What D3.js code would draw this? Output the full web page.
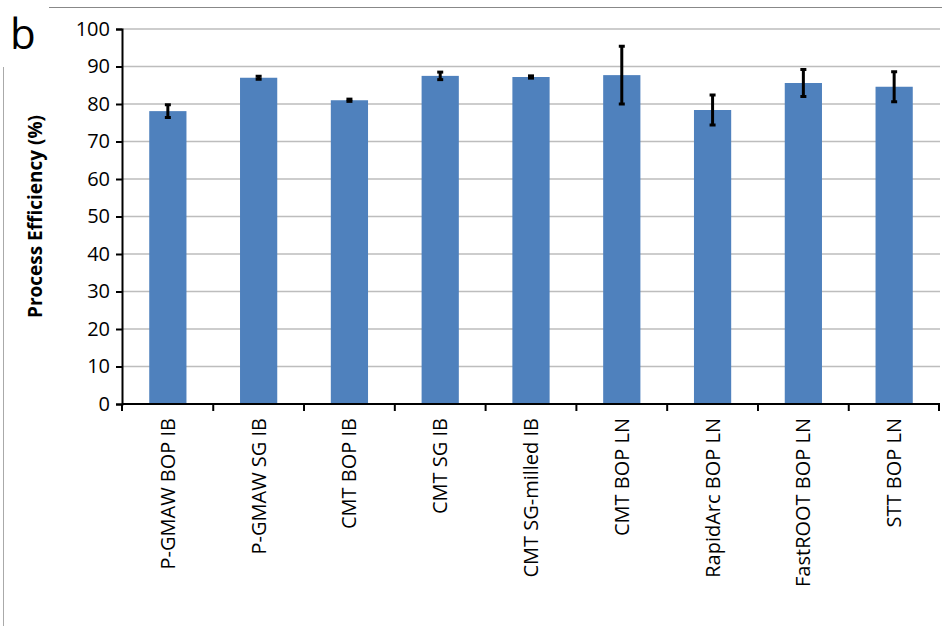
<!DOCTYPE html>
<html><head><meta charset="utf-8">
<script src="https://cdn.jsdelivr.net/npm/d3@7"></script>
<style>body{margin:0;background:#fff}svg{font-family:"Open Sans",Calibri,sans-serif}</style>
</head><body><div id="chart"></div>
<script>
const categories = ['P-GMAW BOP IB', 'P-GMAW SG IB', 'CMT BOP IB', 'CMT SG IB', 'CMT SG-milled IB', 'CMT BOP LN', 'RapidArc BOP LN', 'FastROOT BOP LN', 'STT BOP LN']
const efficiency = [78.1, 87.0, 81.0, 87.5, 87.2, 87.7, 78.4, 85.6, 84.6]
const errors = [1.7, 0.4, 0.3, 1.0, 0.3, 7.7, 4.0, 3.6, 4.0]
const yTicks = [0, 10, 20, 30, 40, 50, 60, 70, 80, 90, 100]

const W = 942, H = 626
const margin = { top: 29, left: 122, right: 2, bottom: 222 }
const width = W - margin.left - margin.right
const height = H - margin.top - margin.bottom

const root = d3.select('#chart').append('svg').attr('width', W).attr('height', H)

// frame fragments from the original figure
root.append('line').attr('x1', 49).attr('x2', W).attr('y1', 7.5).attr('y2', 7.5).attr('stroke', '#888')
root.append('line').attr('x1', 3.5).attr('x2', 3.5).attr('y1', 67).attr('y2', H).attr('stroke', '#aaa')
root.append('text').attr('x', 10).attr('y', 49).attr('font-size', 42).text('b')

const svg = root.append('g').attr('transform', 'translate(' + margin.left + ',' + margin.top + ')')

const x = d3.scaleBand().domain(categories).range([0, width]).paddingInner(0.59).paddingOuter(0.3)
const y = d3.scaleLinear().domain([0, 100]).range([height, 0])

svg.selectAll('.grid').data(yTicks.slice(1)).enter().append('line')
  .attr('x1', 0).attr('x2', width).attr('y1', d => y(d)).attr('y2', d => y(d))
  .attr('stroke', '#bdbdbd').attr('stroke-width', 1.5)

svg.selectAll('.bar').data(efficiency).enter().append('rect')
  .attr('x', (d, i) => x(categories[i])).attr('width', x.bandwidth())
  .attr('y', d => y(d)).attr('height', d => height - y(d))
  .attr('fill', '#4f81bd')

const eb = svg.selectAll('.err').data(efficiency).enter().append('g')
  .attr('transform', (d, i) => 'translate(' + (x(categories[i]) + x.bandwidth() / 2) + ',0)')
eb.append('line').attr('y1', (d, i) => y(d + errors[i])).attr('y2', (d, i) => y(d - errors[i]))
  .attr('stroke', '#000').attr('stroke-width', 3)
eb.append('line').attr('x1', -3).attr('x2', 3).attr('y1', (d, i) => y(d + errors[i])).attr('y2', (d, i) => y(d + errors[i]))
  .attr('stroke', '#000').attr('stroke-width', 3)
eb.append('line').attr('x1', -3).attr('x2', 3).attr('y1', (d, i) => y(d - errors[i])).attr('y2', (d, i) => y(d - errors[i]))
  .attr('stroke', '#000').attr('stroke-width', 3)

const yAxis = svg.append('g').call(d3.axisLeft(y).tickValues(yTicks).tickSize(6).tickPadding(6))
yAxis.selectAll('text').attr('font-size', 20).attr('fill', '#000').attr('font-family', '"Open Sans",sans-serif')
yAxis.selectAll('line,path').attr('stroke', '#000').attr('stroke-width', 2)

const step = x.step()
const xAxis = svg.append('g').attr('transform', 'translate(0,' + height + ')')
xAxis.append('line').attr('x1', 0).attr('x2', width).attr('stroke', '#000').attr('stroke-width', 2)
xAxis.selectAll('.tk').data(d3.range(categories.length + 1)).enter().append('line')
  .attr('x1', i => i === categories.length ? width - 1 : i === 0 ? 0 : x(categories[i]) - (step - x.bandwidth()) / 2)
  .attr('x2', i => i === categories.length ? width - 1 : i === 0 ? 0 : x(categories[i]) - (step - x.bandwidth()) / 2)
  .attr('y1', 0).attr('y2', 7).attr('stroke', '#000').attr('stroke-width', 2)
xAxis.selectAll('.lbl').data(categories).enter().append('text')
  .attr('transform', d => 'translate(' + (x(d) + x.bandwidth() / 2 + 7) + ',14) rotate(-90)')
  .attr('text-anchor', 'end').attr('font-size', 20).text(d => d)

svg.append('text').attr('transform', 'translate(-80,' + (height / 2) + ') rotate(-90)')
  .attr('text-anchor', 'middle').attr('font-size', 19).attr('font-weight', 'bold').text('Process Efficiency (%)')
</script></body></html>
